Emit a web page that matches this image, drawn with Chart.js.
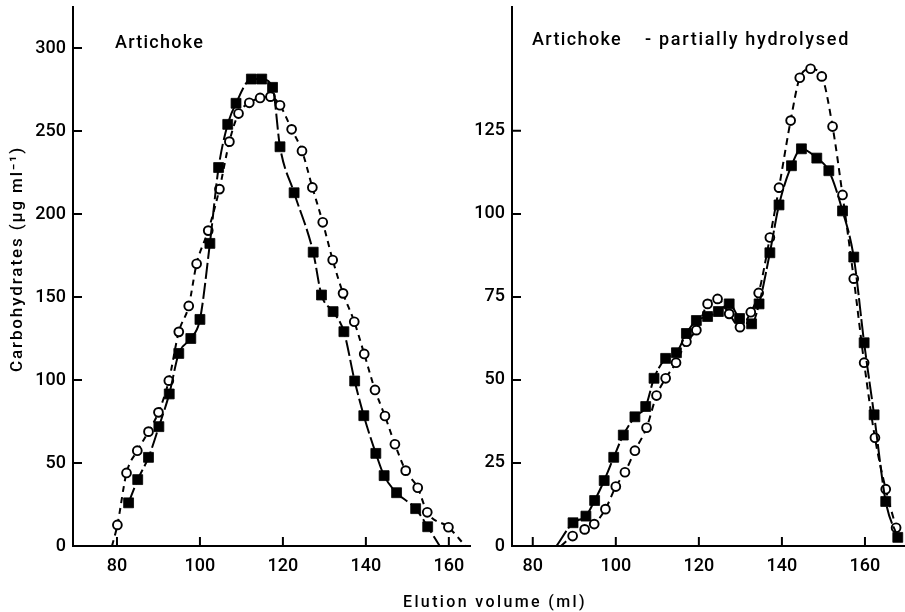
<!DOCTYPE html>
<html><head><meta charset="utf-8">
<script src="https://cdn.jsdelivr.net/npm/chart.js@4.4.1/dist/chart.umd.min.js"></script>
<style>
html,body{margin:0;padding:0;background:#fff;}
#wrap{position:relative;width:905px;height:612px;overflow:hidden;background:#fff;}
#cB{position:absolute;left:0;top:0;}
#cA{position:absolute;left:0;top:0;}
</style></head><body>
<div id="wrap">
<canvas id="cB" width="905" height="612"></canvas>
<canvas id="cA" width="472" height="612"></canvas>
</div>
<script>
// ---------- DATA ----------
const xTickValues = [80, 100, 120, 140, 160];
const leftYTickValues = [0, 50, 100, 150, 200, 250, 300];
const rightYTickValues = [0, 25, 50, 75, 100, 125];

// Left panel: Artichoke
const leftSquareVol  = [82.8, 85, 87.6, 90.1, 92.6, 94.9, 97.8, 100, 102.4, 104.5, 106.7, 108.7, 112.4, 114.9, 117.5, 119.3, 122.7, 127.3, 129.3, 132.1, 134.7, 137.3, 139.5, 142.4, 144.4, 147.4, 152, 154.9, 157.8];
const leftSquareCarb = [26, 40, 53.4, 71.9, 91.6, 116, 125, 136.5, 182.3, 228, 254, 266.7, 281.3, 281.3, 276.3, 240.5, 212.8, 177, 151.2, 141.2, 129.1, 99.4, 78.5, 55.8, 42.4, 32.1, 22.5, 11.6, 0];
const leftCircleVol  = [78.8, 80.1, 82.3, 84.9, 87.6, 90, 92.5, 94.9, 97.3, 99.2, 102, 104.7, 107.1, 109.3, 111.9, 114.5, 117, 119.3, 122.1, 124.6, 127.1, 129.6, 132, 134.5, 137.2, 139.6, 142.2, 144.6, 147, 149.6, 152.5, 154.8, 159.9, 164];
const leftCircleCarb = [0, 12.7, 44, 57.4, 68.9, 80.5, 99.6, 129, 144.6, 170, 190, 215, 243.6, 260.5, 267, 269.9, 270.7, 265.5, 251, 238, 216, 195, 172.3, 152.2, 135.1, 115.7, 94, 78.3, 61.3, 45.4, 35.1, 20.3, 11.3, 0];

// Right panel: Artichoke - partially hydrolysed
const rightSquareVol  = [85.7, 89.7, 92.8, 94.9, 97.2, 99.5, 101.8, 104.6, 107.2, 109.2, 112, 114.6, 117, 119.4, 122.1, 124.7, 127.3, 129.8, 132.7, 134.5, 137.1, 139.3, 142.3, 144.7, 148.4, 151.3, 154.6, 157.3, 159.8, 162.2, 165, 167.9];
const rightSquareCarb = [0, 7, 9, 13.7, 19.7, 26.7, 33.4, 38.9, 42, 50.5, 56.5, 58.2, 64, 67.9, 69.1, 70.6, 72.9, 68.5, 66.9, 72.9, 88.3, 102.7, 114.5, 119.6, 116.8, 113, 100.9, 87, 61.2, 39.5, 13.4, 2.6];
const rightCircleVol  = [86.8, 89.6, 92.5, 94.8, 97.5, 100, 102.2, 104.6, 107.4, 109.8, 112, 114.5, 117, 119.4, 122.1, 124.5, 127.3, 129.9, 132.5, 134.4, 137.1, 139.3, 142.1, 144.3, 146.9, 149.6, 152.2, 154.6, 157.3, 159.8, 162.4, 165, 167.5];
const rightCircleCarb = [0, 3, 5, 6.6, 11.1, 17.9, 22.2, 28.7, 35.6, 45.3, 50.5, 55.2, 61.5, 65, 72.9, 74.4, 69.9, 65.9, 70.4, 76.2, 92.9, 107.9, 128.1, 141, 143.7, 141.4, 126.3, 105.7, 80.5, 55.2, 32.6, 17.1, 5.5];

const leftTitle = 'Artichoke';
const rightTitleA = 'Artichoke';
const rightTitleB = '- partially hydrolysed';
const yAxisTitle = 'Carbohydrates (\u00b5g ml\u207b\u00b9)';
const xAxisTitle = 'Elution volume (ml)';

// ---------- HELPERS ----------
const pts = (xs, ys) => xs.map((x, i) => ({x: x, y: ys[i]}));
const FONT = 'Roboto, "DejaVu Sans", sans-serif';

function fitText(ctx, t) {
  ctx.save();
  ctx.font = t.font;
  ctx.letterSpacing = '0px';
  const w0 = ctx.measureText(t.text).width;
  const n = [...t.text].length;
  const ls = t.width ? (t.width - w0) / n : 0;
  ctx.letterSpacing = ls.toFixed(2) + 'px';
  ctx.textBaseline = 'alphabetic';
  ctx.fillStyle = '#000';
  ctx.textAlign = 'left';
  if (t.rotate) {
    ctx.translate(t.x, t.y);
    ctx.rotate(-Math.PI / 2);
    ctx.fillText(t.text, -t.width / 2, 0);
  } else {
    ctx.fillText(t.text, t.x, t.y);
  }
  ctx.restore();
}

const panelDeco = {
  id: 'panelDeco',
  afterDraw(chart, args, opts) {
    const ctx = chart.ctx, xs = chart.scales.x, ys = chart.scales.y;
    ctx.save();
    ctx.strokeStyle = '#000';
    ctx.lineWidth = 2;
    ctx.beginPath();
    for (const v of opts.xTicks) {
      const p = xs.getPixelForValue(v);
      ctx.moveTo(p, ys.bottom);
      ctx.lineTo(p, ys.bottom - opts.tickLen);
    }
    for (const v of opts.yTicks) {
      const p = ys.getPixelForValue(v);
      ctx.moveTo(xs.left, p);
      ctx.lineTo(xs.left + opts.tickLen, p);
    }
    ctx.stroke();
    ctx.restore();
    for (const t of opts.texts) fitText(ctx, t);
  }
};

function lineDS(data, kind, dash) {
  const isSq = kind === 'sq';
  return {
    data: data,
    borderColor: '#000',
    borderWidth: 2,
    borderDash: dash,
    cubicInterpolationMode: 'monotone',
    pointStyle: isSq ? 'rect' : 'circle',
    pointRadius: c => (c.raw && c.raw.y === 0) ? 0 : (isSq ? 7 : 4.4),
    pointBorderWidth: isSq ? 0.8 : 1.9,
    pointBorderColor: '#000',
    pointBackgroundColor: isSq ? '#000' : '#fff',
    fill: false
  };
}

function makeScales(xmin, xmax, ymax, yTicks, yWidth) {
  const tickFont = {family: FONT, size: 18, weight: '500'};
  return {
    x: {
      type: 'linear', position: 'bottom', min: xmin, max: xmax,
      afterBuildTicks: s => { s.ticks = xTickValues.map(v => ({value: v})); },
      afterFit: s => { s.height = 66; s.paddingLeft = 0; s.paddingRight = 0; },
      grid: {display: false, drawTicks: false},
      border: {display: true, color: '#000', width: 2},
      ticks: {color: '#000', font: tickFont, padding: 10, maxRotation: 0, autoSkip: false}
    },
    y: {
      type: 'linear', position: 'left', min: 0, max: ymax,
      afterBuildTicks: s => { s.ticks = yTicks.map(v => ({value: v})); },
      afterFit: s => { s.width = yWidth; s.paddingTop = 0; s.paddingBottom = 0; },
      grid: {display: false, drawTicks: false},
      border: {display: true, color: '#000', width: 2},
      ticks: {color: '#000', font: tickFont, padding: 7, autoSkip: false}
    }
  };
}

// ---------- LEFT PANEL ----------
new Chart(document.getElementById('cA'), {
  type: 'line',
  data: {
    datasets: [
      lineDS(pts(leftSquareVol, leftSquareCarb), 'sq', [16, 4]),
      lineDS(pts(leftCircleVol, leftCircleCarb), 'ci', [6, 5])
    ]
  },
  options: {
    responsive: false, animation: false, devicePixelRatio: 1,
    layout: {autoPadding: false, padding: {top: 7, right: 2, left: 0, bottom: 0}},
    plugins: {
      legend: {display: false}, tooltip: {enabled: false},
      panelDeco: {
        xTicks: xTickValues, yTicks: leftYTickValues, tickLen: 9,
        texts: [
          {text: leftTitle, x: 115, y: 48, width: 89, font: '500 18px ' + FONT},
          {text: yAxisTitle, x: 22, y: 259, width: 226, font: '500 17px ' + FONT, rotate: true}
        ]
      }
    },
    scales: makeScales(69.4, 165.1, 324.7, leftYTickValues, 73)
  },
  plugins: [panelDeco]
});

// ---------- RIGHT PANEL ----------
new Chart(document.getElementById('cB'), {
  type: 'line',
  data: {
    datasets: [
      lineDS(pts(rightSquareVol, rightSquareCarb), 'sq', [18, 3]),
      lineDS(pts(rightCircleVol, rightCircleCarb), 'ci', [7, 5])
    ]
  },
  options: {
    responsive: false, animation: false, devicePixelRatio: 1,
    layout: {autoPadding: false, padding: {top: 7, right: 1, left: 0, bottom: 0}},
    plugins: {
      legend: {display: false}, tooltip: {enabled: false},
      panelDeco: {
        xTicks: xTickValues, yTicks: rightYTickValues, tickLen: 9,
        texts: [
          {text: rightTitleA, x: 532, y: 45, width: 90, font: '500 18px ' + FONT},
          {text: rightTitleB, x: 645, y: 45, width: 205, font: '500 18px ' + FONT},
          {text: xAxisTitle, x: 403, y: 607, width: 184, font: '500 16px ' + FONT}
        ]
      }
    },
    scales: makeScales(75, 169.4, 162.3, rightYTickValues, 512)
  },
  plugins: [panelDeco]
});
</script>
</body></html>
